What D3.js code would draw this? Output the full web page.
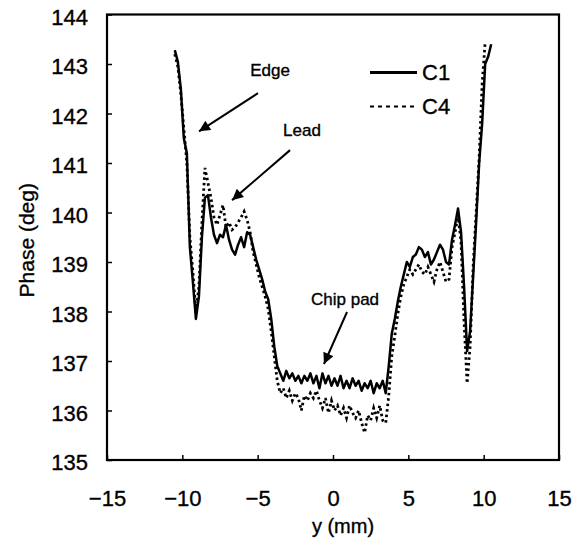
<!DOCTYPE html>
<html>
<head>
<meta charset="utf-8">
<script src="https://cdn.jsdelivr.net/npm/d3@7"></script>
<style>
  body { margin: 0; background: #fff; }
  svg text { font-family: "Liberation Sans", Arial, sans-serif; fill: #000; stroke: #000; stroke-width: 0.35px; }
</style>
</head>
<body>
<div id="chart"></div>
<script>
// position along the scan (mm)
const yPos = [-10.5, -10.3, -10.1, -9.9, -9.7, -9.5, -9.3, -9.1, -8.9, -8.7,
  -8.5, -8.3, -8.1, -7.9, -7.7, -7.5, -7.3, -7.1, -6.9, -6.7,
  -6.5, -6.3, -6.1, -5.9, -5.7, -5.5, -5.3, -5.1, -4.9, -4.7,
  -4.5, -4.3, -4.1, -3.9, -3.7, -3.5, -3.3, -3.1, -2.9, -2.7,
  -2.5, -2.3, -2.1, -1.9, -1.7, -1.5, -1.3, -1.1, -0.9, -0.7,
  -0.5, -0.3, -0.1, 0.1, 0.3, 0.5, 0.7, 0.9, 1.1, 1.3,
  1.5, 1.7, 1.9, 2.1, 2.3, 2.5, 2.7, 2.9, 3.1, 3.3,
  3.5, 3.7, 3.9, 4.1, 4.3, 4.5, 4.7, 4.9, 5.1, 5.3,
  5.5, 5.7, 5.9, 6.1, 6.3, 6.5, 6.7, 6.9, 7.1, 7.3,
  7.5, 7.7, 7.9, 8.1, 8.3, 8.5, 8.7, 8.9, 9.1, 9.3,
  9.5, 9.7, 9.9, 10.1, 10.3, 10.5];

const c1Phase = [143.28, 143.05, 142.5, 141.5, 141.2, 139.3, 138.6, 137.85, 138.3, 139.5,
  140.3, 140.35, 139.9, 139.55, 139.38, 139.55, 139.5, 139.75, 139.45, 139.25,
  139.15, 139.35, 139.5, 139.3, 139.6, 139.55, 139.3, 139.05, 138.85, 138.65,
  138.4, 138.25, 137.85, 137.3, 136.9, 136.75, 136.6, 136.8, 136.65, 136.75,
  136.6, 136.7, 136.55, 136.7, 136.6, 136.75, 136.55, 136.7, 136.45, 136.75,
  136.55, 136.7, 136.5, 136.65, 136.5, 136.7, 136.45, 136.6, 136.45, 136.65,
  136.5, 136.6, 136.4, 136.55, 136.45, 136.6, 136.35, 136.55, 136.45, 136.6,
  136.35, 136.9, 137.55, 137.85, 138.2, 138.5, 138.75, 139.0, 138.9, 139.1,
  139.15, 139.3, 139.25, 139.1, 139.2, 138.95, 139.05, 139.2, 139.35, 139.25,
  139.0, 138.95, 139.45, 139.75, 140.08, 139.6, 138.5, 137.2, 137.6, 138.7,
  139.8, 141.0, 141.8, 143.0, 143.15, 143.4];

const c4Phase = [143.2, 142.95, 142.4, 141.7, 141.0, 139.5, 138.8, 138.0, 138.5, 139.8,
  140.9, 140.6, 140.3, 139.9, 139.75, 139.95, 140.15, 139.7, 139.8, 139.65,
  139.7, 139.8, 139.9, 140.02, 139.85, 139.6, 139.2, 138.95, 138.7, 138.5,
  138.3, 138.05, 137.6, 137.1, 136.6, 136.35, 136.45, 136.25, 136.4, 136.2,
  136.35, 136.25, 136.0, 136.3, 136.2, 136.35, 136.25, 136.4, 136.2, 136.05,
  136.25, 135.95, 136.2, 136.0, 136.1, 135.9, 136.05, 135.85, 136.1, 135.95,
  135.85, 136.0, 135.75, 135.55, 135.9, 135.8, 136.05, 135.85, 136.1, 135.8,
  135.75, 136.3, 137.1, 137.5, 137.95, 138.3, 138.55, 138.7, 138.85, 138.75,
  138.85, 138.95, 138.8, 138.75, 138.9, 138.75, 138.6, 138.85, 139.0, 138.8,
  138.6, 138.65, 139.3, 139.6, 139.95, 139.4, 137.8, 136.55, 137.3, 138.9,
  140.0, 141.1, 142.6, 143.45, null, null];

const xTicks = [-15, -10, -5, 0, 5, 10, 15];
const yTicks = [135, 136, 137, 138, 139, 140, 141, 142, 143, 144];

const seriesNames = ["C1", "C4"];

// annotation text, label centre and arrow (from -> tip), in data units
const notes = [
  {text: "Edge", lx: -4.18, ly: 142.88, x0: -4.98, y0: 142.41, x1: -8.89, y1: 141.64},
  {text: "Lead", lx: -2.06, ly: 141.67, x0: -2.85, y0: 141.26, x1: -6.70, y1: 140.25},
  {text: "Chip pad", lx: 0.8, ly: 138.25, x0: 0.93, y0: 137.99, x1: -0.6, y1: 136.94}
];

class PhaseChart {
  constructor(_config) {
    this.config = {
      parentElement: _config.parentElement,
      containerWidth: _config.containerWidth || 580,
      containerHeight: _config.containerHeight || 549,
      margin: _config.margin || {top: 14.5, right: 21, bottom: 89, left: 107}
    };
    this.initVis();
  }

  initVis() {
    let vis = this;
    vis.width = vis.config.containerWidth - vis.config.margin.left - vis.config.margin.right;
    vis.height = vis.config.containerHeight - vis.config.margin.top - vis.config.margin.bottom;

    vis.svg = d3.select(vis.config.parentElement).append("svg")
      .attr("width", vis.config.containerWidth)
      .attr("height", vis.config.containerHeight);

    vis.chart = vis.svg.append("g")
      .attr("transform", `translate(${vis.config.margin.left},${vis.config.margin.top})`);

    vis.xScale = d3.scaleLinear().domain([-15, 15]).range([0, vis.width]);
    vis.yScale = d3.scaleLinear().domain([135, 144]).range([vis.height, 0]);

    vis.renderVis();
  }

  renderVis() {
    let vis = this;
    const fmt = d => d < 0 ? "\u2212" + Math.abs(d) : String(d);

    // ticks point inward
    const xAxis = d3.axisBottom(vis.xScale).tickValues(xTicks).tickSize(-5).tickFormat(fmt).tickPadding(30);
    const yAxis = d3.axisLeft(vis.yScale).tickValues(yTicks).tickSize(-5).tickPadding(19);

    const xg = vis.chart.append("g").attr("transform", `translate(0,${vis.height})`).call(xAxis);
    const yg = vis.chart.append("g").call(yAxis);
    [xg, yg].forEach(g => {
      g.select(".domain").remove();
      g.selectAll(".tick line").attr("stroke", "#000").attr("stroke-width", 1.5);
      g.selectAll(".tick text").attr("font-size", 22).attr("fill", "#000")
        .attr("font-family", "Liberation Sans, Arial, sans-serif");
    });
    yg.selectAll(".tick text").attr("dy", "0.45em");

    vis.chart.append("rect")
      .attr("width", vis.width).attr("height", vis.height)
      .attr("fill", "none").attr("stroke", "#000").attr("stroke-width", 2.2);

    const line = d3.line()
      .defined(d => d[1] != null)
      .x(d => vis.xScale(d[0]))
      .y(d => vis.yScale(d[1]));

    vis.chart.append("path")
      .datum(yPos.map((x, i) => [x, c4Phase[i]]))
      .attr("fill", "none").attr("stroke", "#000").attr("stroke-width", 2.8)
      .attr("stroke-dasharray", "2.5,3")
      .attr("d", line);

    vis.chart.append("path")
      .datum(yPos.map((x, i) => [x, c1Phase[i]]))
      .attr("fill", "none").attr("stroke", "#000").attr("stroke-width", 2.5)
      .attr("stroke-linejoin", "round")
      .attr("d", line);

    // legend
    const legend = vis.svg.append("g");
    seriesNames.forEach((name, i) => {
      const ly = 72.5 + i * 34;
      legend.append("line")
        .attr("x1", 370).attr("x2", 417).attr("y1", ly).attr("y2", ly)
        .attr("stroke", "#000").attr("stroke-width", i === 0 ? 2.8 : 2)
        .attr("stroke-dasharray", i === 0 ? null : "4,4");
      legend.append("text")
        .attr("x", 422).attr("y", ly).attr("dy", "0.36em")
        .attr("font-size", 22).text(name);
    });

    // arrows + labels
    vis.svg.append("defs").append("marker")
      .attr("id", "head").attr("viewBox", "0 0 10 10")
      .attr("refX", 10).attr("refY", 5)
      .attr("markerWidth", 14).attr("markerHeight", 11)
      .attr("markerUnits", "userSpaceOnUse")
      .attr("orient", "auto")
      .append("path").attr("d", "M0,0L10,5L0,10Z").attr("fill", "#000");

    notes.forEach(n => {
      vis.chart.append("line")
        .attr("x1", vis.xScale(n.x0)).attr("y1", vis.yScale(n.y0))
        .attr("x2", vis.xScale(n.x1)).attr("y2", vis.yScale(n.y1))
        .attr("stroke", "#000").attr("stroke-width", 2)
        .attr("marker-end", "url(#head)");
      vis.chart.append("text")
        .attr("x", vis.xScale(n.lx)).attr("y", vis.yScale(n.ly))
        .attr("dy", "0.36em").attr("text-anchor", "middle")
        .attr("font-size", 17).text(n.text);
    });

    // axis titles
    vis.svg.append("text")
      .attr("x", 343).attr("y", 533)
      .attr("text-anchor", "middle").attr("font-size", 20).text("y (mm)");
    vis.svg.append("text")
      .attr("transform", `translate(34,${vis.config.margin.top + vis.height / 2 + 3}) rotate(-90)`)
      .attr("text-anchor", "middle").attr("font-size", 21).text("Phase (deg)");
  }
}

new PhaseChart({parentElement: "#chart"});
</script>
</body>
</html>
